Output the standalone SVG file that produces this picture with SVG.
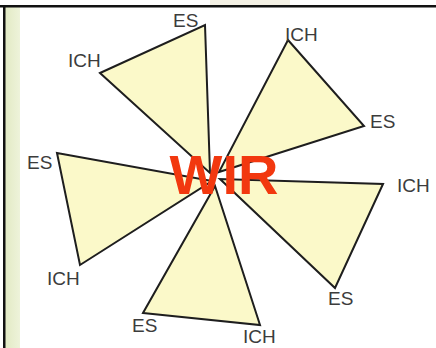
<svg xmlns="http://www.w3.org/2000/svg" width="436" height="348" viewBox="0 0 436 348">
<defs>
<linearGradient id="strip" x1="0" y1="0" x2="1" y2="0">
<stop offset="0" stop-color="#E2EAC4"/>
<stop offset="1" stop-color="#EEF3DA"/>
</linearGradient>
</defs>
<style>
.tri{fill:#FBF9C9;stroke:#1E1E1E;stroke-width:2;stroke-linejoin:miter}
.lbl{font-family:"Liberation Sans",Arial,sans-serif;font-size:19px;fill:#3C3C3C}
.wir{font-family:"Liberation Sans",Arial,sans-serif;font-size:56px;font-weight:bold;fill:#F2380F}
</style>
<rect x="0" y="0" width="436" height="348" fill="#FFFFFF"/>
<rect x="210" y="0" width="80" height="5" fill="#F3F0E4"/>
<rect x="5" y="7" width="15" height="341" fill="url(#strip)"/>
<rect x="0" y="5" width="436" height="2.5" fill="#111"/>
<rect x="3" y="5" width="2.5" height="343" fill="#111"/>
<g id="connectors">
<g id="t1"><polygon class="tri" points="100,73 205,25 210,173"/></g>
<g id="t2"><polygon class="tri" points="288,40 364,126 219,172"/></g>
<g id="t3"><polygon class="tri" points="57,153 80,265 212,181"/></g>
<g id="t4"><polygon class="tri" points="383,184 335,288 220,179"/></g>
<g id="t5"><polygon class="tri" points="143,313 260,325 215,186"/></g>
</g>
<g id="labels">
<text class="lbl" x="173" y="27">ES</text>
<text class="lbl" x="68" y="67">ICH</text>
<text class="lbl" x="285" y="41">ICH</text>
<text class="lbl" x="370" y="128">ES</text>
<text class="lbl" x="27" y="169">ES</text>
<text class="lbl" x="47" y="285">ICH</text>
<text class="lbl" x="397" y="192">ICH</text>
<text class="lbl" x="328" y="305">ES</text>
<text class="lbl" x="132" y="332">ES</text>
<text class="lbl" x="243" y="343">ICH</text>
</g>
<g id="center"><text class="wir" x="224" y="194" text-anchor="middle">WIR</text></g>
</svg>
